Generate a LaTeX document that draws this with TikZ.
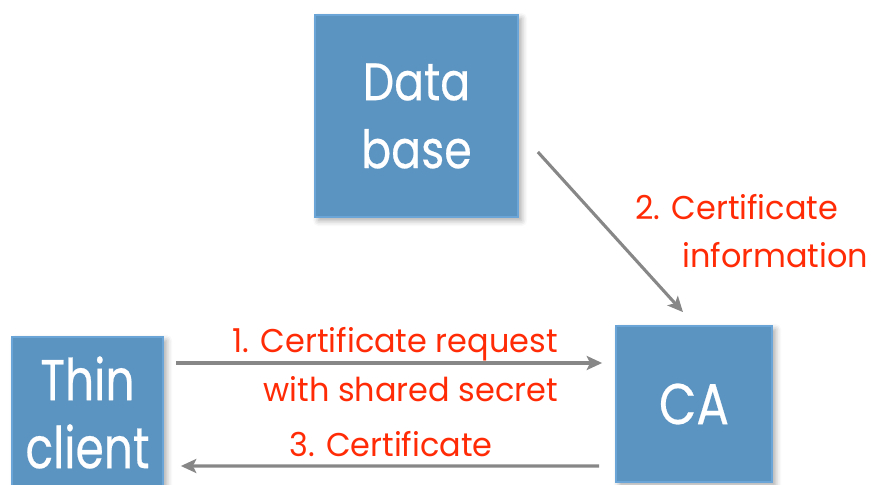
\documentclass[tikz,border=0pt]{standalone}
\usepackage{fontspec}
\setmainfont{Poppins}
\newfontfamily\namefont{Poppins}[FakeStretch=0.84, FakeBold=0.4]
\newfontfamily\clientfont{Poppins}[FakeStretch=0.79, FakeBold=0.4]
\newfontfamily\msgfont{Poppins}[FakeStretch=0.97]
\usepackage{tikz}
\usetikzlibrary{arrows.meta,shadows.blur}
\definecolor{boxblue}{HTML}{5B93C1}
\definecolor{boxedge}{HTML}{6BA4D6}
\definecolor{msgred}{HTML}{FF2B06}
\definecolor{arrowgray}{HTML}{878787}

\begin{document}
\begin{tikzpicture}[
    x=0.025cm, y=-0.025cm,
    >={Stealth[length=11pt, width=10pt, inset=2.5pt]},
    entity/.style={draw=boxedge, line width=1.2pt, fill=boxblue, text=white, align=center, inner sep=0pt,
      blur shadow={shadow xshift=2.5pt, shadow yshift=-2.5pt, shadow blur radius=4pt, shadow opacity=35}},
    bigname/.style={font=\namefont\fontsize{37.5}{48.3}\selectfont},
    smallname/.style={font=\namefont\fontsize{41}{48.3}\selectfont},
    msg/.style={text=msgred, font=\msgfont\fontsize{23.4}{34.9}\selectfont, inner sep=0pt},
    flow/.style={->, draw=arrowgray, line width=2.2pt}
  ]
    \useasboundingbox (0,0) rectangle (871,485);

    \node[entity, bigname, minimum width=5.075cm, minimum height=5.05cm] (db) at (416.5,116) {Data\\base};
    \node[entity, smallname, font=\clientfont\fontsize{41}{48.3}\selectfont, minimum width=3.775cm, minimum height=3.775cm] (thin) at (87.5,412.5) {Thin\\client};
    \node[entity, smallname, minimum width=3.9cm, minimum height=3.9cm] (ca) at (694,404) {CA};

    \draw[flow] ([shift={(12,-49.5)}]thin.east) -- ([shift={(-13,-41)}]ca.west);
    \draw[flow] ([shift={(19,36)}]db.east) -- ([shift={(-11,-13)}]ca.north);
    \draw[flow] ([shift={(-16,62)}]ca.west) -- ([shift={(17,53.5)}]thin.east);

    \node[msg, align=right, anchor=base east] (req) at (558,402) {1. Certificate request\\with shared secret};
    \node[msg, anchor=base west] (info1) at (635,220) {2. Certificate};
    \node[msg, anchor=base west] (info2) at (682,268) {information};
    \node[msg, anchor=base east] (cert) at (493,457) {3. Certificate};
  \end{tikzpicture}
\end{document}
